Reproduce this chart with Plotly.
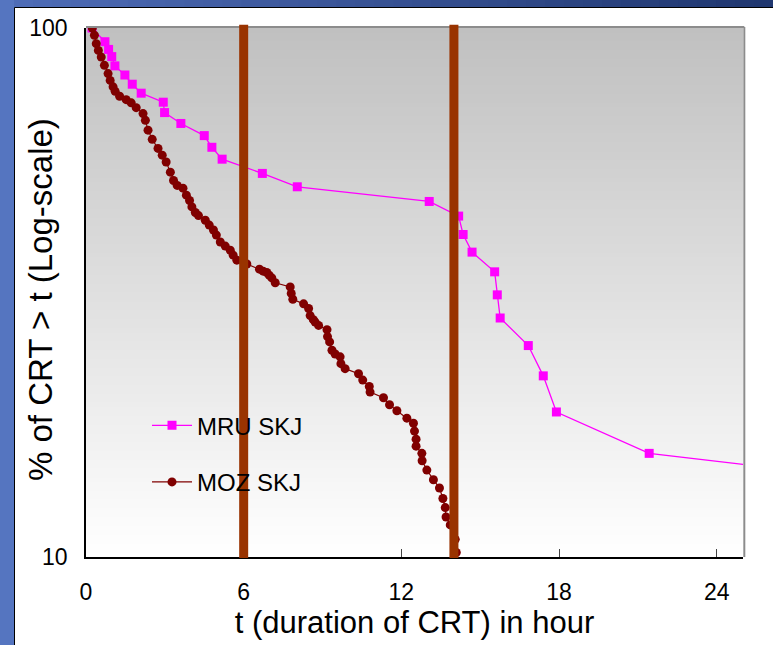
import plotly.graph_objects as go

# MRU SKJ survival curve (hours, % of CRT > t)
mru_t = [0.23, 0.72, 0.86, 0.98, 1.10, 1.48, 1.76, 2.10, 2.94, 2.99, 3.61, 4.50, 4.79, 5.18,
         6.71, 8.04, 13.06, 14.18, 14.35, 14.69, 15.55, 15.65, 15.76, 16.83, 17.40, 17.90,
         21.43, 25.3]
mru_pct = [100, 94.2, 91.1, 88.3, 84.8, 81.5, 78.3, 75.3, 72.4, 69.2, 66.0, 62.6, 59.5, 56.5,
           53.1, 50.1, 47.0, 44.1, 40.7, 37.7, 34.6, 31.3, 28.3, 25.1, 22.0, 18.8,
           15.7, 14.9]

# MOZ SKJ survival curve
moz_t = [0.24, 0.32, 0.39, 0.47, 0.58, 0.70, 0.84, 0.92, 1.03, 1.11, 1.28, 1.53, 1.72, 1.91,
         2.17, 2.26, 2.36, 2.52, 2.74, 2.90, 3.05, 3.21, 3.33, 3.47, 3.69, 3.82, 3.94, 4.03,
         4.16, 4.28, 4.54, 4.69, 4.85, 4.96, 5.11, 5.30, 5.49, 5.60, 5.74, 6.12, 6.60, 6.74,
         6.88, 6.97, 7.07, 7.20, 7.77, 7.81, 7.87, 8.28, 8.47, 8.53, 8.65, 8.72, 8.85, 9.17,
         9.19, 9.27, 9.36, 9.48, 9.67, 9.70, 9.86, 10.37, 10.53, 10.78, 10.81, 11.32, 11.55,
         11.83, 12.21, 12.46, 12.50, 12.56, 12.56, 12.78, 12.79, 12.97, 13.22, 13.45, 13.58,
         13.67, 13.70, 13.86, 14.05, 14.09, 14.09]
moz_pct = [100, 96.9, 93.4, 90.7, 88.1, 85.0, 82.0, 79.6, 77.4, 75.9, 74.3, 73.2, 72.2, 70.7,
           68.9, 66.9, 64.1, 61.6, 59.2, 57.5, 55.8, 53.4, 51.5, 50.4, 49.8, 48.3, 47.2, 45.9,
           44.8, 44.2, 43.3, 42.4, 41.5, 40.6, 39.4, 38.7, 38.0, 37.2, 36.4, 35.8, 35.0, 34.7,
           34.5, 34.1, 33.7, 33.0, 32.4, 31.5, 30.7, 30.1, 29.5, 28.6, 28.1, 27.8, 27.4, 26.9,
           26.1, 25.5, 24.6, 24.2, 23.9, 23.2, 22.7, 22.2, 21.6, 21.0, 20.5, 20.0, 19.4,
           18.9, 18.3, 17.9, 17.3, 16.7, 16.2, 15.7, 15.2, 14.6, 14.0, 13.5, 12.9,
           12.4, 11.9, 11.5, 10.8, 10.2, 9.6]

# vertical marker lines (hours)
cutoffs = [6, 14]

x_ticks = [0, 6, 12, 18, 24]
y_ticks = [10, 100]

FONT = "Arial, Liberation Sans, sans-serif"

# pixel layout of the plot area inside the 773x645 page
L, R, T, B = 86, 743, 28, 557
W, H = R - L, B - T


def px_x(p):
    return (p - L) / W


def px_y(p):
    return (B - p) / H


shapes = []

# white chart box over the blue slide background
shapes.append(dict(type="rect", xref="paper", yref="paper", layer="below",
                   x0=px_x(14.5), x1=px_x(780), y0=px_y(650), y1=px_y(7.5),
                   fillcolor="white", line=dict(color="black", width=1)))

# blue gradient strip along the top
n_top = 40
for i in range(n_top):
    f = i / (n_top - 1)
    r = int(78 + (32 - 78) * f)
    g = int(108 + (55 - 108) * f)
    b = int(182 + (112 - 182) * f)
    shapes.append(dict(type="rect", xref="paper", yref="paper", layer="below",
                       x0=px_x(14 + (773 - 14) * i / n_top), x1=px_x(14 + (773 - 14) * (i + 1) / n_top + 1),
                       y0=px_y(7), y1=px_y(-1), fillcolor=f"rgb({r},{g},{b})", line=dict(width=0)))

# grey-to-white gradient in the plot area
n_bg = 120
for i in range(n_bg):
    f = i / (n_bg - 1)
    v = int(round(255 - (255 - 192) * f))
    shapes.append(dict(type="rect", xref="x domain", yref="y domain", layer="below",
                       x0=0, x1=1, y0=i / n_bg, y1=(i + 1) / n_bg + 0.002,
                       fillcolor=f"rgb({v},{v},{v})", line=dict(width=0)))

# grey frame on top and right of plot area
shapes.append(dict(type="line", xref="x domain", yref="y domain", x0=0, x1=1.002, y0=1.002, y1=1.002,
                   line=dict(color="#8c8c8c", width=2), layer="below"))
shapes.append(dict(type="line", xref="x domain", yref="y domain", x0=1.002, x1=1.002, y0=0, y1=1.002,
                   line=dict(color="#8c8c8c", width=2), layer="below"))

# brown cutoff bars
for c in cutoffs:
    shapes.append(dict(type="line", xref="x", yref="y domain", x0=c, x1=c, y0=-0.002, y1=1.006,
                       line=dict(color="#993300", width=9), layer="above"))

fig = go.Figure()
fig.add_trace(go.Scatter(
    x=mru_t, y=mru_pct, name="MRU SKJ", mode="lines+markers",
    line=dict(color="#ff00ff", width=1.3),
    marker=dict(symbol="square", size=9, color="#ff00ff"),
    legend="legend", showlegend=True,
))
fig.add_trace(go.Scatter(
    x=moz_t, y=moz_pct, name="MOZ SKJ", mode="lines+markers",
    line=dict(color="#800000", width=1.2),
    marker=dict(symbol="circle", size=9, color="#800000"),
    legend="legend2", showlegend=True,
))

legend_style = dict(bgcolor="rgba(0,0,0,0)", font=dict(family=FONT, size=24, color="black"),
                    xanchor="left", yanchor="middle", itemwidth=40)

fig.update_layout(
    width=773, height=645,
    margin=dict(l=L, r=773 - R, t=T, b=645 - B),
    paper_bgcolor="#5575c0",
    plot_bgcolor="rgba(0,0,0,0)",
    font=dict(family=FONT, color="black"),
    shapes=shapes,
    showlegend=True,
    legend=dict(x=px_x(147), y=px_y(425.7), **legend_style),
    legend2=dict(x=px_x(147), y=px_y(482.3), **legend_style),
    xaxis=dict(
        range=[0, 25], tickvals=x_ticks, ticks="inside", ticklen=8, tickcolor="#444444",
        showline=True, linecolor="black", linewidth=1.5, showgrid=False, zeroline=False,
        tickfont=dict(size=23), ticklabelstandoff=14, automargin=False,
        title=dict(text="t (duration of CRT) in hour", font=dict(size=31), standoff=2),
    ),
    yaxis=dict(
        type="log", range=[1, 2], tickvals=y_ticks, ticks="",
        showline=True, linecolor="black", linewidth=1.5, showgrid=False, zeroline=False,
        tickfont=dict(size=23), ticklabelstandoff=12, automargin=False,
    ),
    annotations=[dict(
        text="% of CRT > t (Log-scale)", textangle=-90, showarrow=False,
        xref="paper", yref="paper", x=px_x(40), y=px_y(300),
        xanchor="center", yanchor="middle", font=dict(size=33),
    )],
)

fig.write_html("out.html", config={"displayModeBar": False},
               post_script="document.body.style.margin='0';")
